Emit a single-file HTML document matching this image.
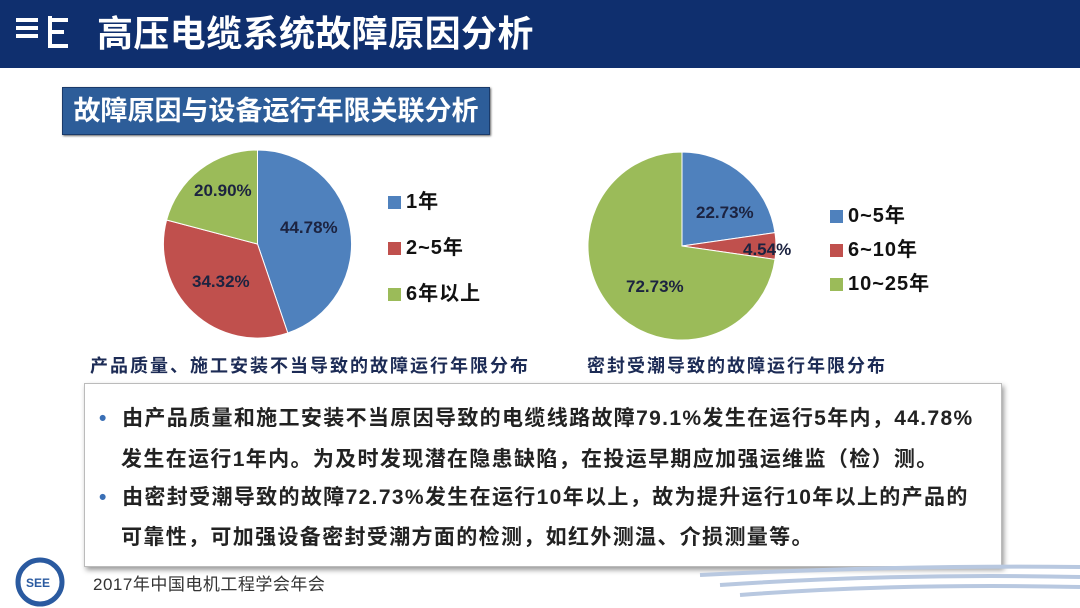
<!DOCTYPE html>
<html><head><meta charset="utf-8"><style>
body{margin:0;width:1080px;height:608px;overflow:hidden;background:#fff;font-family:"Liberation Sans","Noto Sans CJK SC",sans-serif;position:relative}
.hdr{position:absolute;left:0;top:0;width:1080px;height:68px;background:#0f2f6e}
.hdr .t{position:absolute;left:97px;top:10px;color:#fff;font-size:36px;letter-spacing:0.4px;font-weight:bold;line-height:48px}
.sub{position:absolute;left:62px;top:87px;width:426px;height:46px;background:#2d5d99;border:1px solid #1a3a6a;box-shadow:1px 1px 2px #666;color:#fff;font-size:27px;font-weight:bold;line-height:46px;text-align:center}
.cap{position:absolute;top:352px;font-size:18px;letter-spacing:2px;font-weight:bold;color:#1c2b55}
.lg{position:absolute;font-size:20px;letter-spacing:1px;font-weight:bold;color:#111;line-height:22px}
.lg i{display:inline-block;width:13px;height:13px;margin-right:5px;vertical-align:-1px}
.box{position:absolute;left:84px;top:383px;width:916px;height:182px;background:#fff;border:1px solid #bbb;box-shadow:2px 3px 5px #999}
.box p{margin:0;position:absolute;left:14px;font-size:21px;letter-spacing:1.35px;font-weight:bold;color:#222;line-height:24px;white-space:nowrap}
.foot{position:absolute;left:93px;top:570px;font-size:17px;letter-spacing:0.5px;color:#333}
</style></head><body>
<div class="hdr">
<svg style="position:absolute;left:14px;top:14px" width="56" height="40"><g stroke="#fff" stroke-width="4" fill="none"><path d="M2 6h22M2 14h22M2 22h22"/><path d="M36 2v30h18M36 18h14M36 6h18"/></g></svg>
<div class="t">高压电缆系统故障原因分析</div></div>
<div class="sub">故障原因与设备运行年限关联分析</div>
<svg style="position:absolute;left:0;top:0" width="1080" height="608">
<path d="M257.5 244 L257.5 150 A94 94 0 0 1 287.8 333 Z" fill="#4f81bd" stroke="#fff" stroke-width="1"/>
<path d="M257.5 244 L287.8 333 A94 94 0 0 1 166.6 220 Z" fill="#c0504d" stroke="#fff" stroke-width="1"/>
<path d="M257.5 244 L166.6 220 A94 94 0 0 1 257.5 150 Z" fill="#9bbb59" stroke="#fff" stroke-width="1"/>
<path d="M682 246 L682 152 A94 94 0 0 1 775 232.6 Z" fill="#4f81bd" stroke="#fff" stroke-width="1"/>
<path d="M682 246 L775 232.6 A94 94 0 0 1 775 259.4 Z" fill="#c0504d" stroke="#fff" stroke-width="1"/>
<path d="M682 246 L775 259.4 A94 94 0 1 1 682 152 Z" fill="#9bbb59" stroke="#fff" stroke-width="1"/>
<g font-family="Liberation Sans,sans-serif" font-weight="bold" font-size="17" fill="#1c2340">
<text x="280" y="233">44.78%</text><text x="192" y="287">34.32%</text><text x="194" y="196">20.90%</text>
<text x="696" y="218">22.73%</text><text x="743" y="255">4.54%</text><text x="626" y="292">72.73%</text></g>
</svg>
<div class="lg" style="left:388px;top:191px"><i style="background:#4f81bd"></i>1年</div>
<div class="lg" style="left:388px;top:237px"><i style="background:#c0504d"></i>2~5年</div>
<div class="lg" style="left:388px;top:283px"><i style="background:#9bbb59"></i>6年以上</div>
<div class="lg" style="left:830px;top:205px"><i style="background:#4f81bd"></i>0~5年</div>
<div class="lg" style="left:830px;top:239px"><i style="background:#c0504d"></i>6~10年</div>
<div class="lg" style="left:830px;top:273px"><i style="background:#9bbb59"></i>10~25年</div>
<div class="cap" style="left:90px">产品质量、施工安装不当导致的故障运行年限分布</div>
<div class="cap" style="left:587px">密封受潮导致的故障运行年限分布</div>
<div class="box">
<p style="top:23px"><span style="color:#3a6fb5">•</span>&nbsp;&nbsp;由产品质量和施工安装不当原因导致的电缆线路故障79.1%发生在运行5年内，44.78%</p>
<p style="top:64px;left:36px">发生在运行1年内。为及时发现潜在隐患缺陷，在投运早期应加强运维监（检）测。</p>
<p style="top:102px"><span style="color:#3a6fb5">•</span>&nbsp;&nbsp;由密封受潮导致的故障72.73%发生在运行10年以上，故为提升运行10年以上的产品的</p>
<p style="top:142px;left:36px">可靠性，可加强设备密封受潮方面的检测，如红外测温、介损测量等。</p>
</div>
<svg style="position:absolute;left:0;top:555px" width="1080" height="53">
<circle cx="40" cy="27" r="22" fill="none" stroke="#2a5aa0" stroke-width="5"/>
<text x="26" y="32" font-size="12" font-weight="bold" fill="#2a5aa0" font-family="Liberation Sans">SEE</text>
<path d="M700 20 Q900 10 1080 12 M720 30 Q900 18 1080 22 M740 40 Q900 28 1080 32" stroke="#b8c8e0" stroke-width="4" fill="none"/>
</svg>
<div class="foot">2017年中国电机工程学会年会</div>
</body></html>
